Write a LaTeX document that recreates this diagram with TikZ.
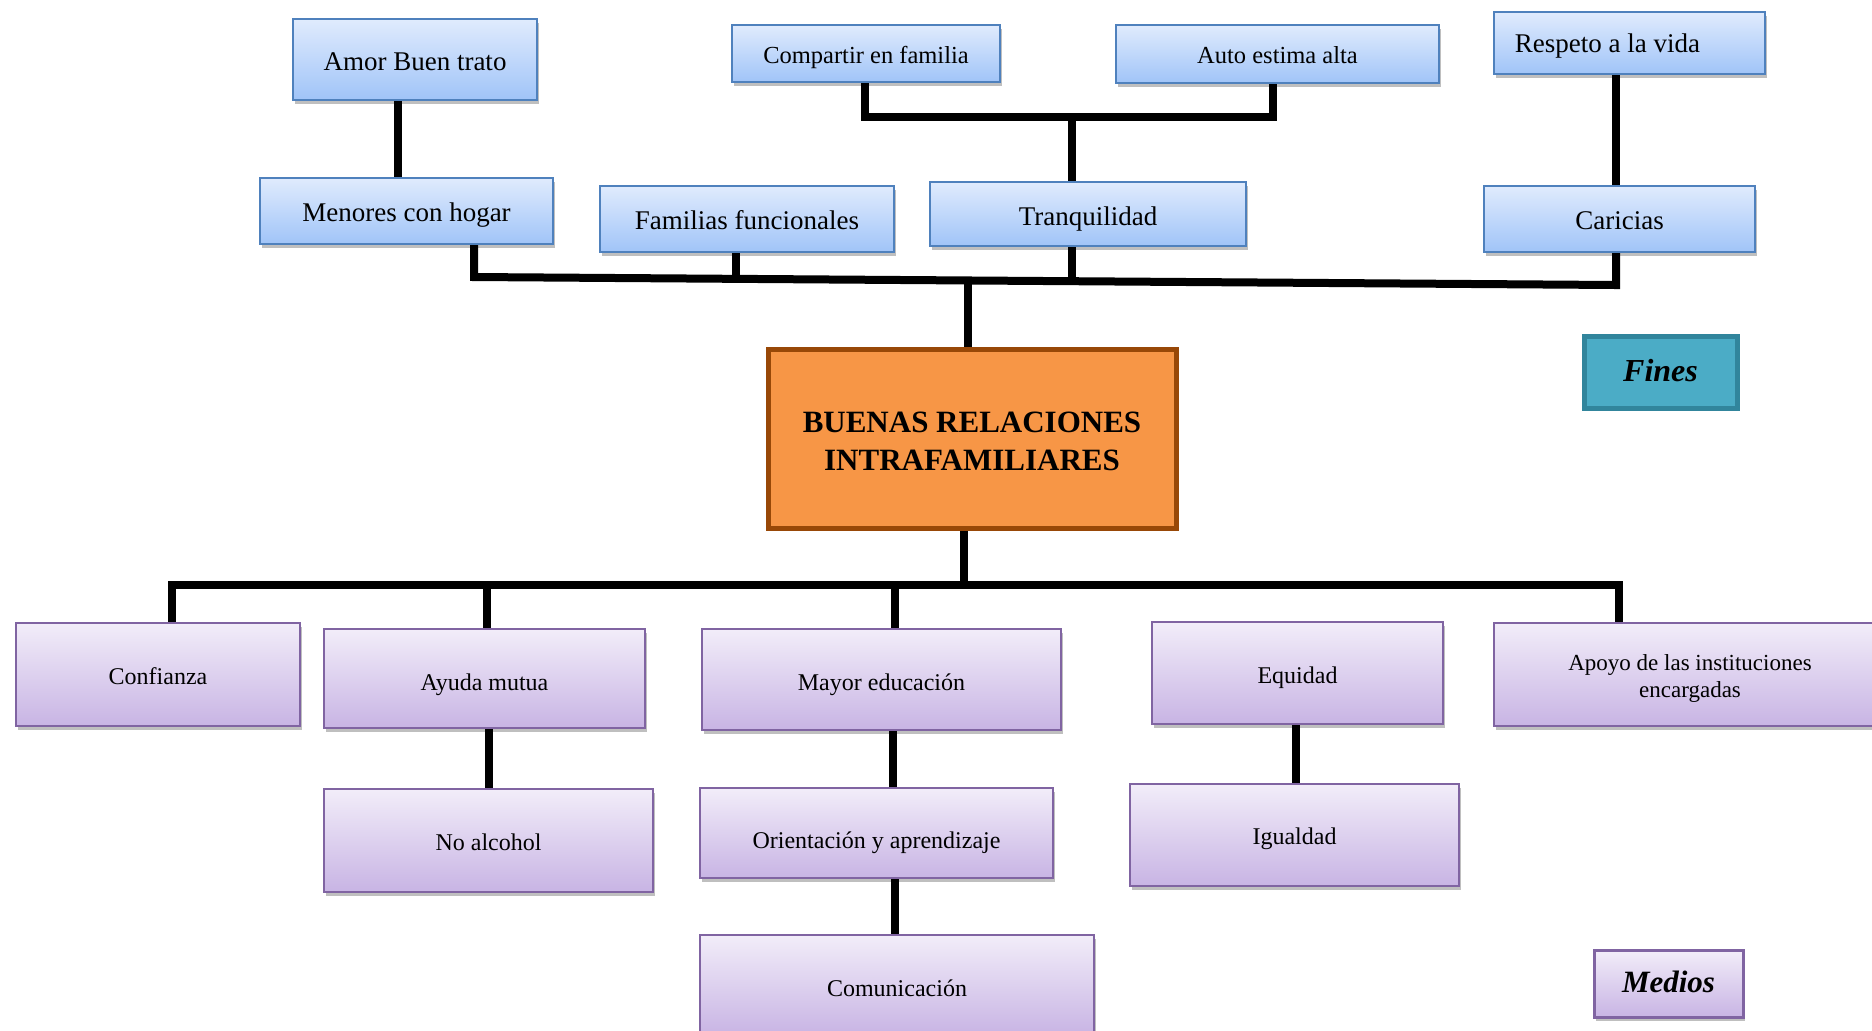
\documentclass[tikz,border=0pt]{standalone}
\usepackage{fontspec}
\setmainfont{Liberation Serif}
\usetikzlibrary{shadows,backgrounds}
\definecolor{bluetop}{RGB}{224,235,253}
\definecolor{bluebot}{RGB}{160,196,248}
\definecolor{blueedge}{RGB}{79,129,189}
\definecolor{purtop}{RGB}{242,237,249}
\definecolor{purbot}{RGB}{200,180,228}
\definecolor{puredge}{RGB}{128,100,162}
\definecolor{orfill}{RGB}{247,150,70}
\definecolor{oredge}{RGB}{152,72,7}
\definecolor{tealfill}{RGB}{75,172,198}
\definecolor{tealedge}{RGB}{49,133,156}
\begin{document}
\begin{tikzpicture}[x=0.5pt,y=-0.5pt,
  shad/.style={drop shadow={shadow xshift=1.2pt,shadow yshift=-2pt,opacity=0.25,fill=black}},
  bl/.style={text height=#1pt,text depth=0pt},
  finbox/.style={draw=blueedge,line width=1pt,top color=bluetop,bottom color=bluebot,shad,inner sep=0pt,font=\fontsize{13.5}{16}\selectfont},
  finsmall/.style={finbox,font=\fontsize{12.25}{15}\selectfont},
  medbox/.style={draw=puredge,line width=1pt,top color=purtop,bottom color=purbot,shad,inner sep=0pt,font=\fontsize{12}{14}\selectfont},
  conn/.style={line width=4pt,line join=miter,black}]
\useasboundingbox (0,0) rectangle (1872,1030);

% Fines (top)
\node[finbox,bl=10.5,minimum width=122pt,minimum height=40.5pt] (amor) at (415,59.5) {Amor Buen trato};
\node[finsmall,bl=9.5,minimum width=134pt,minimum height=28.5pt] (compartir) at (866,53.5) {Compartir en familia};
\node[finsmall,bl=9.3,minimum width=161.5pt,minimum height=29pt] (auto) at (1277.5,54) {Auto estima alta};
\node[finbox,bl=9.3,minimum width=135.5pt,minimum height=31pt] (respeto) at (1629.5,43) {Respeto a la vida\hspace*{22pt}};
\node[finbox,bl=10,minimum width=146.5pt,minimum height=33pt] (menores) at (406.5,211) {Menores con hogar};
\node[finbox,bl=10.3,minimum width=147pt,minimum height=33pt] (familias) at (747,219) {Familias funcionales};
\node[finbox,bl=11,minimum width=158pt,minimum height=32pt] (tranq) at (1088,214) {Tranquilidad};
\node[finbox,bl=10.3,minimum width=135.5pt,minimum height=33pt] (caricias) at (1619.5,219) {Caricias};

% Centre
\node[draw=oredge,line width=2.5pt,fill=orfill,minimum width=204pt,minimum height=89.5pt,align=center,
  font=\fontsize{15.5}{19}\selectfont\bfseries] (center) at (972,438.5) {\rule{0pt}{13.5pt}BUENAS RELACIONES\\INTRAFAMILIARES};
\node[draw=tealedge,line width=2.5pt,fill=tealfill,bl=9,minimum width=76.5pt,minimum height=36pt,
  font=\fontsize{16}{19}\selectfont\bfseries\itshape] (fines) at (1660.5,372) {Fines};

% Medios (bottom)
\node[medbox,bl=10,minimum width=142pt,minimum height=51.5pt] (confianza) at (158,674.5) {Confianza};
\node[medbox,bl=11.5,minimum width=160.5pt,minimum height=49.5pt] (ayuda) at (484.5,678.5) {Ayuda mutua};
\node[medbox,bl=9.5,minimum width=164.5pt,minimum height=51.5pt] (noalc) at (488.5,840.5) {No alcohol};
\node[medbox,bl=10.5,minimum width=179.5pt,minimum height=50.5pt] (mayor) at (881.5,679.5) {Mayor educación};
\node[medbox,bl=15,minimum width=176.5pt,minimum height=45pt] (orient) at (876.5,833) {Orientación y aprendizaje};
\node[medbox,bl=11.7,minimum width=197pt,minimum height=50pt] (comun) at (897,985) {Comunicación};
\node[medbox,bl=10.5,minimum width=145.5pt,minimum height=51pt] (equidad) at (1297.5,673) {Equidad};
\node[medbox,bl=9.8,minimum width=164.5pt,minimum height=51pt] (igualdad) at (1294.5,835) {Igualdad};
\node[medbox,minimum width=196pt,minimum height=51.5pt,align=center,font=\fontsize{11.5}{13.5}\selectfont] (apoyo) at (1690,674.5) {\rule{0pt}{11.5pt}Apoyo de las instituciones\\encargadas};
\node[medbox,bl=9,line width=1.5pt,minimum width=74.5pt,minimum height=33.5pt,font=\fontsize{15.5}{18}\selectfont\bfseries\itshape] (medios) at (1668.5,983.5) {Medios};

% connector coordinates
\coordinate (a1) at (398,0);
\coordinate (cb1) at (865,117);
\coordinate (cb2) at (1273,117);
\coordinate (cb3) at (1072,117);
\coordinate (lb1) at (474,277);
\coordinate (lb2) at (1616,285);
\coordinate (lbF) at (736,279);
\coordinate (lbT) at (1072,281);
\coordinate (lbC) at (968,280.5);
\coordinate (rc) at (1616,0);
\coordinate (bb0) at (964,584.5);
\coordinate (bb1) at (172,584.5);
\coordinate (bb2) at (1619,584.5);
\coordinate (bbA) at (487,584.5);
\coordinate (bbM) at (895,584.5);
\coordinate (ch1) at (489,0);
\coordinate (ch2) at (893,0);
\coordinate (ch3) at (895,0);
\coordinate (ch4) at (1296,0);

\begin{scope}[on background layer]
\draw[conn] (amor.south -| a1) -- (menores.north -| a1);
\draw[conn] (compartir.south -| cb1) -- (cb1) -- (cb2) -- (auto.south -| cb2);
\draw[conn] (cb3) -- (tranq.north -| cb3);
\draw[conn] (menores.south -| lb1) -- (lb1) -- (lb2) -- (caricias.south -| lb2);
\draw[conn] (familias.south -| lbF) -- (lbF);
\draw[conn] (tranq.south -| lbT) -- (lbT);
\draw[conn] (lbC) -- (center.north -| lbC);
\draw[conn] (respeto.south -| rc) -- (caricias.north -| rc);
\draw[conn] (center.south -| bb0) -- (bb0);
\draw[conn] (confianza.north -| bb1) -- (bb1) -- (bb2) -- (apoyo.north -| bb2);
\draw[conn] (bbA) -- (ayuda.north -| bbA);
\draw[conn] (bbM) -- (mayor.north -| bbM);
\draw[conn] (ayuda.south -| ch1) -- (noalc.north -| ch1);
\draw[conn] (mayor.south -| ch2) -- (orient.north -| ch2);
\draw[conn] (orient.south -| ch3) -- (comun.north -| ch3);
\draw[conn] (equidad.south -| ch4) -- (igualdad.north -| ch4);
\end{scope}
\end{tikzpicture}
\end{document}
